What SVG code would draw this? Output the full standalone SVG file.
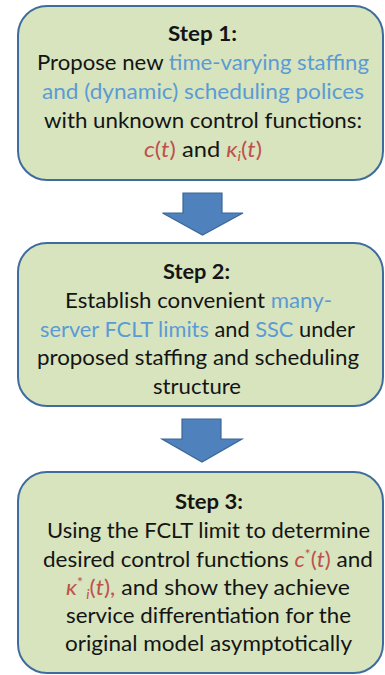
<svg xmlns="http://www.w3.org/2000/svg" width="385" height="675" viewBox="0 0 385 675">
  <style>
    .box { fill: #d7e4bd; stroke: #3e6c9e; stroke-width: 2; }
    .arrow { fill: #4f81bd; stroke: #3b6796; stroke-width: 1.2; stroke-linejoin: miter; }
    text { font-family: Lato, "Liberation Sans", "DejaVu Sans", sans-serif; font-size: 21px; fill: #141414; }
    .title { font-weight: bold; }
    .blue { fill: #5b9bd5; }
    .red { fill: #c0504d; }
    .it { font-style: italic; }
    .small { font-size: 13px; }
  </style>

  <!-- block arrows between the steps -->
  <g id="connectors">
    <path class="arrow" d="M183,193 H222 V213 H243 L202.5,235 L162.5,213 H183 Z"/>
    <path class="arrow" d="M182,419 H221 V439 H242 L202,462 L162,439 H182 Z"/>
  </g>

  <!-- Step 1 -->
  <g id="step1">
    <rect class="box" x="18" y="6" width="365" height="174" rx="29" ry="29"/>
    <text class="title" x="168" y="41" textLength="69" lengthAdjust="spacingAndGlyphs">Step 1:</text>
    <text x="37" y="70" textLength="332" lengthAdjust="spacingAndGlyphs">Propose new <tspan class="blue">time-varying staffing</tspan></text>
    <text class="blue" x="42" y="99" textLength="322" lengthAdjust="spacingAndGlyphs">and (dynamic) scheduling polices</text>
    <text x="44" y="128" textLength="318" lengthAdjust="spacingAndGlyphs">with unknown control functions:</text>
    <text x="144" y="157" textLength="118" lengthAdjust="spacingAndGlyphs"><tspan class="red it">c</tspan><tspan class="red">(</tspan><tspan class="red it">t</tspan><tspan class="red">)</tspan> and <tspan class="red it">κ</tspan><tspan class="red it small" dy="4">i</tspan><tspan class="red" dy="-4">(</tspan><tspan class="red it">t</tspan><tspan class="red">)</tspan></text>
  </g>

  <!-- Step 2 -->
  <g id="step2">
    <rect class="box" x="18" y="243" width="365" height="163" rx="29" ry="29"/>
    <text class="title" x="163" y="279" textLength="67" lengthAdjust="spacingAndGlyphs">Step 2:</text>
    <text x="65" y="308" textLength="267" lengthAdjust="spacingAndGlyphs">Establish convenient <tspan class="blue">many-</tspan></text>
    <text x="40" y="336.5" textLength="315" lengthAdjust="spacingAndGlyphs"><tspan class="blue">server FCLT limits</tspan> and <tspan class="blue">SSC</tspan> under</text>
    <text x="37" y="365" textLength="322" lengthAdjust="spacingAndGlyphs">proposed staffing and scheduling</text>
    <text x="153" y="393.5" textLength="88" lengthAdjust="spacingAndGlyphs">structure</text>
  </g>

  <!-- Step 3 -->
  <g id="step3">
    <rect class="box" x="18" y="472" width="365" height="201" rx="29" ry="29"/>
    <text class="title" x="175" y="509" textLength="68" lengthAdjust="spacingAndGlyphs">Step 3:</text>
    <text x="47" y="538" textLength="323" lengthAdjust="spacingAndGlyphs">Using the FCLT limit to determine</text>
    <text x="43" y="567" textLength="330" lengthAdjust="spacingAndGlyphs">desired control functions <tspan class="red it">c</tspan><tspan class="red small" dy="-8">*</tspan><tspan class="red" dy="8">(</tspan><tspan class="red it">t</tspan><tspan class="red">)</tspan> and</text>
    <text x="66" y="595" textLength="284" lengthAdjust="spacingAndGlyphs"><tspan class="red it">κ</tspan><tspan class="red small" dy="-8">*</tspan><tspan class="red it small" dy="12"> i</tspan><tspan class="red" dy="-4">(</tspan><tspan class="red it">t</tspan><tspan class="red">),</tspan> and show they achieve</text>
    <text x="66" y="623" textLength="285" lengthAdjust="spacingAndGlyphs">service differentiation for the</text>
    <text x="65" y="651" textLength="287" lengthAdjust="spacingAndGlyphs">original model asymptotically</text>
  </g>
</svg>
